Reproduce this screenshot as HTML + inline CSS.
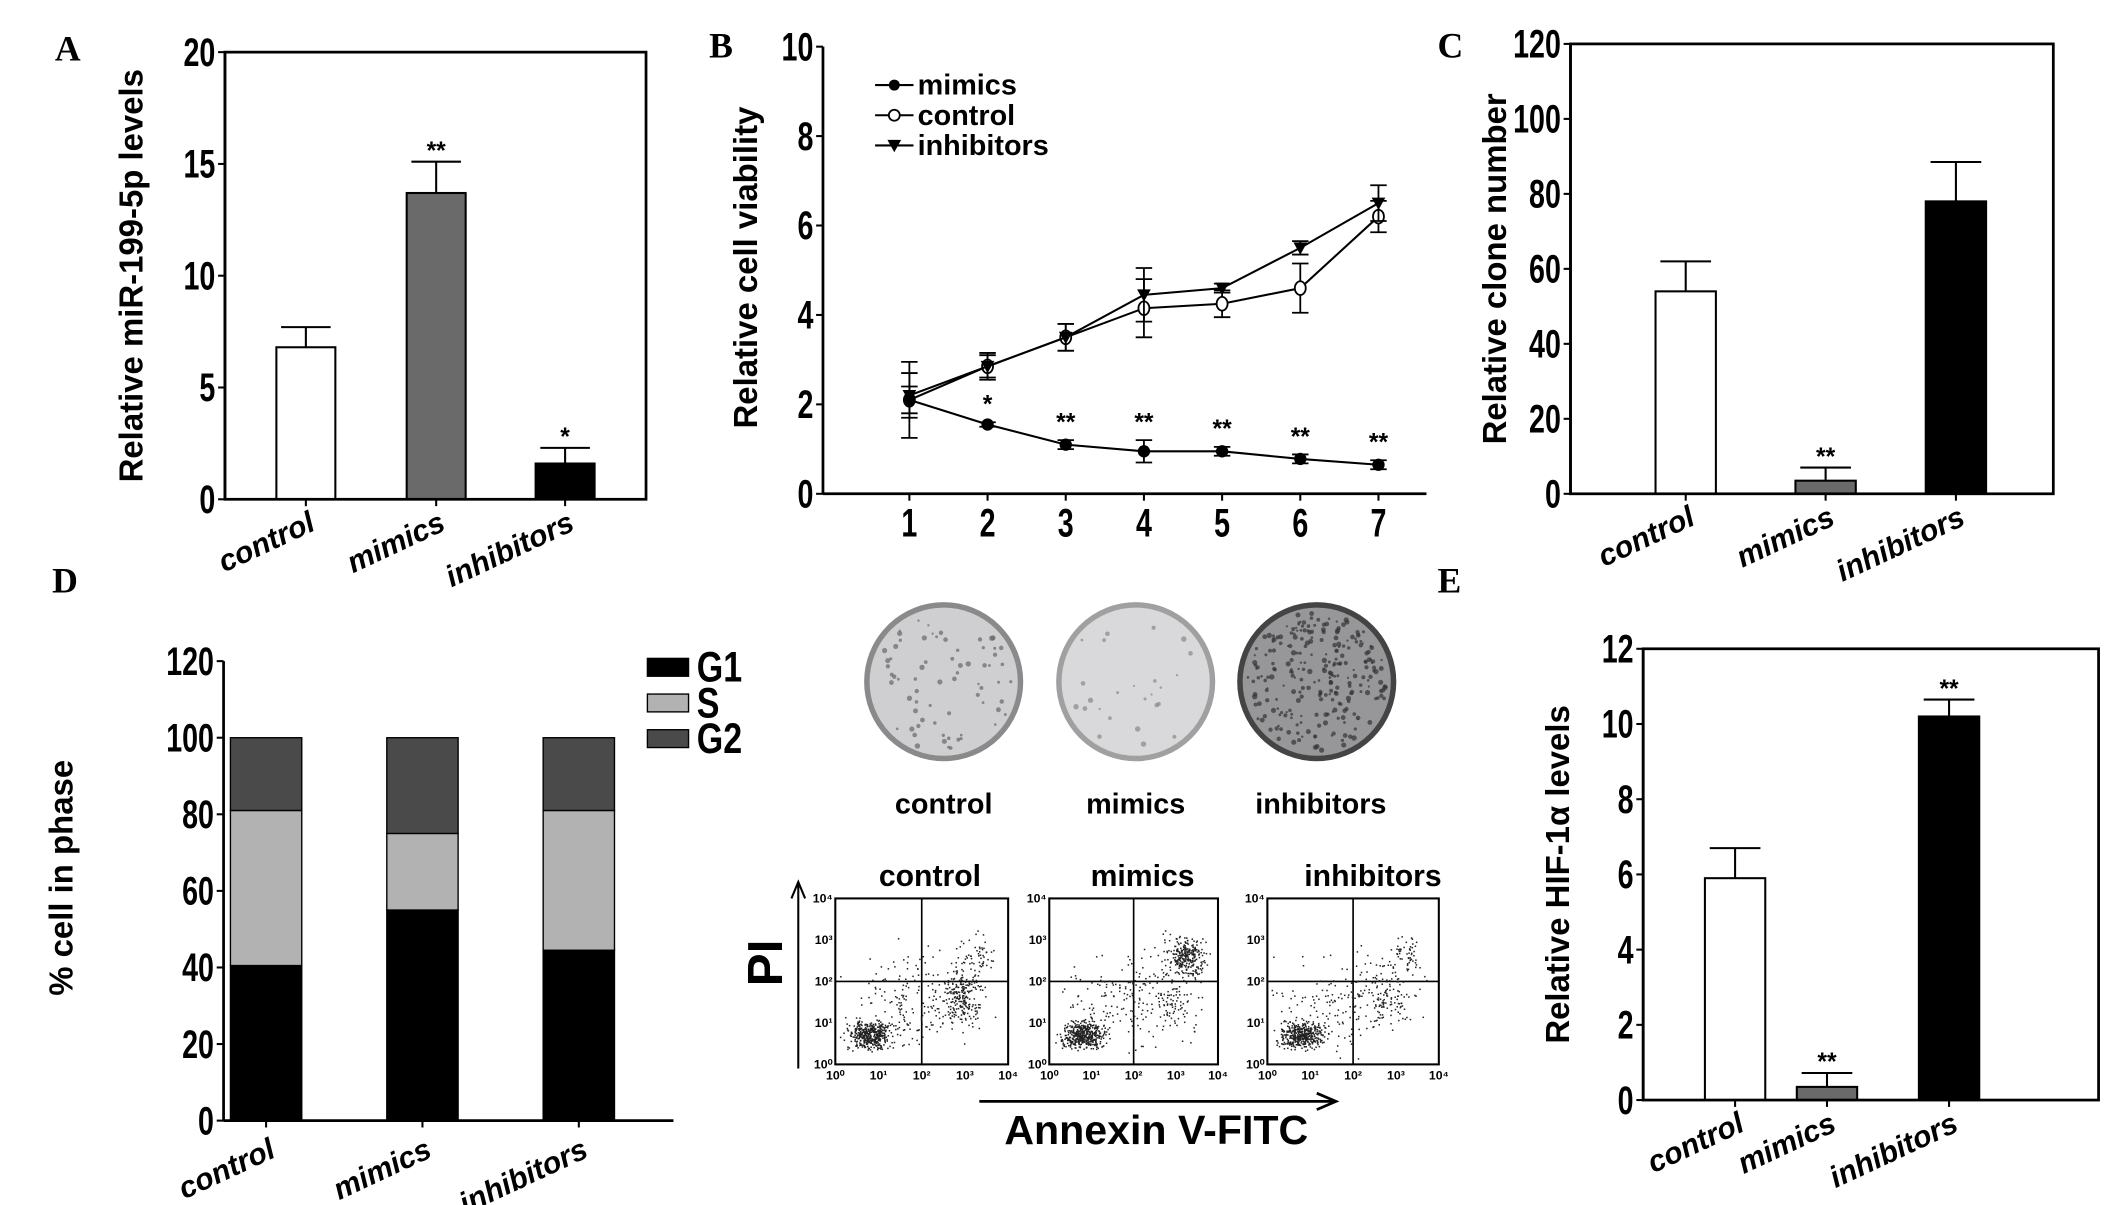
<!DOCTYPE html>
<html><head><meta charset="utf-8"><style>
html,body{margin:0;padding:0;background:#fff;}
svg{display:block;}
text{font-family:"Liberation Sans",sans-serif;font-weight:bold;fill:#000;}
.s{font-family:"Liberation Serif",serif;font-weight:bold;}
.it{font-style:italic;}
</style></head><body>
<svg id="fig" xmlns="http://www.w3.org/2000/svg" width="2126" height="1205" viewBox="0 0 1550 878.5">
<rect x="0" y="0" width="1550" height="879" fill="#fff"/>
</svg>
<script>
// ===== Data =====
const groups = ["control","mimics","inhibitors"];
const aValues = [6.8, 13.7, 1.6];
const aErrors = [0.9, 1.4, 0.7];
const aStars = ["", "**", "*"];
const aTicks = [0,5,10,15,20];

const bDays = [1,2,3,4,5,6,7];
const bMimics = [2.1,1.55,1.1,0.95,0.95,0.78,0.65];
const bMimicsErr = [0.3,0.05,0.1,0.25,0.1,0.1,0.1];
const bControl = [2.1,2.85,3.5,4.15,4.25,4.6,6.2];
const bControlErr = [0.85,0.25,0.3,0.65,0.3,0.55,0.35];
const bInhib = [2.2,2.85,3.5,4.45,4.6,5.5,6.5];
const bInhibErr = [0.5,0.3,0.3,0.6,0.1,0.15,0.4];
const bStars = ["","*","**","**","**","**","**"];
const bTicks = [0,2,4,6,8,10];

const cValues = [54, 3.5, 78];
const cErrors = [8, 3.5, 10.5];
const cStars = ["", "**", ""];
const cTicks = [0,20,40,60,80,100,120];

const dG1 = [40.5, 55, 44.5];
const dS = [40.5, 20, 36.5];
const dG2 = [19, 25, 19];
const dTicks = [0,20,40,60,80,100,120];

const eValues = [5.9, 0.35, 10.2];
const eErrors = [0.8, 0.37, 0.45];
const eStars = ["", "**", "**"];
const eTicks = [0,2,4,6,8,10,12];

const barFills = ["#fff","#6a6a6a","#000"];

// ===== helpers =====
const svg = document.getElementById('fig');
const NS = "http://www.w3.org/2000/svg";
function mk(tag, attrs, parent){
  const e = document.createElementNS(NS, tag);
  for (const k in attrs) e.setAttribute(k, attrs[k]);
  (parent||svg).appendChild(e);
  return e;
}
function txt(s, x, y, size, parent, anchor, cls, rot){
  const t = mk('text', {x:x, y:y, 'font-size':size, 'text-anchor':anchor||'middle'}, parent);
  if (cls) t.setAttribute('class', cls);
  if (rot) t.setAttribute('transform', 'rotate(' + rot + ' ' + x + ' ' + y + ')');
  t.textContent = s;
  return t;
}
function ntxt(s, x, y, size, parent, anchor, sx){
  const t = mk('text', {x:0, y:0, 'font-size':size, 'text-anchor':anchor||'middle', transform:'translate('+x+' '+y+') scale('+(sx||0.72)+' 1)'}, parent);
  t.textContent = s;
  return t;
}
function grp(name){
  const g = mk('g', {});
  
  
  return g;
}
function yAxis(g, x, y0, y1, ticks, scale){
  mk('line',{x1:x,y1:y0,x2:x,y2:y1,stroke:'#000','stroke-width':2},g);
  ticks.forEach(v=>{
    const y = scale(v);
    mk('line',{x1:x-5,y1:y,x2:x,y2:y,stroke:'#000','stroke-width':1.5},g);
    const t = ntxt(String(v), x-7, y+10, 29, g, 'end');
    
    
  });
}
function barPanel(name, box, ticks, vmax, values, errors, stars, centers, bw, ytitle, ytx, labelOffset){
  const g = grp(name);
  const sy = v => box.b - (v/vmax)*(box.b-box.t);
  values.forEach((v,i)=>{
    const x = centers[i]-bw/2;
    const ey = sy(v+errors[i]);
    const r = mk('rect',{x:x,y:sy(v),width:bw,height:box.b-sy(v),fill:barFills[i],stroke:'#000','stroke-width':1.5},g);
    
    
    const el = mk('path',{d:'M'+centers[i]+' '+sy(v)+' V'+ey+' M'+(centers[i]-bw*0.42)+' '+ey+' H'+(centers[i]+bw*0.42),stroke:'#000','stroke-width':1.5,fill:'none'},g);
    
    
    if (stars[i]) txt(stars[i], centers[i], ey-2, 18, g);
    mk('line',{x1:centers[i],y1:box.b,x2:centers[i],y2:box.b+5,stroke:'#000','stroke-width':1.5},g);
    const lt = txt(groups[i], centers[i]+8, box.b+labelOffset, 22, g, 'end', 'it', -25);
    
    
  });
  mk('rect',{x:box.l,y:box.t,width:box.r-box.l,height:box.b-box.t,fill:'none',stroke:'#000','stroke-width':2},g);
  yAxis(g, box.l, box.t, box.b, ticks, sy);
  const tt = txt(ytitle, ytx, (box.t+box.b)/2, 24, g, 'middle', null, -90);
  
  
}

// ===== Panel labels =====
[["A",40,44],["B",517,42],["C",1048,42],["D",38,432],["E",1048,432]].forEach(p=>{
  const t = txt(p[0], p[1], p[2], 26, svg, 'start', 's');
  
  
});

// ===== Panel A =====
barPanel('panel-a-chart', {l:164,r:471,t:38,b:364}, aTicks, 20, aValues, aErrors, aStars, [223,318,412], 43, 'Relative miR-199-5p levels', 104, 22);

// ===== Panel B =====
(function(){
  const g = grp('panel-b-chart');
  const L=600, T=34, B=360, R=1040;
  const sy = v => B - (v/10)*(B-T);
  const sx = d => 663 + (d-1)*57;
  mk('line',{x1:L,y1:B,x2:R,y2:B,stroke:'#000','stroke-width':2},g);
  yAxis(g, L, T, B, bTicks, sy);
  bDays.forEach(d=>{
    mk('line',{x1:sx(d),y1:B,x2:sx(d),y2:B+5,stroke:'#000','stroke-width':1.5},g);
    const t = ntxt(String(d), sx(d), B+31, 29, g, 'middle');
    
    
  });
  function series(name, vals, errs, marker){
    const sg = mk('g',{},g);
    
    
    mk('polyline',{points:vals.map((v,i)=>sx(bDays[i])+','+sy(v)).join(' '),fill:'none',stroke:'#000','stroke-width':1.5},sg);
    vals.forEach((v,i)=>{
      const x=sx(bDays[i]), y=sy(v), e1=sy(v+errs[i]), e2=sy(v-errs[i]);
      mk('path',{d:'M'+x+' '+e1+' V'+e2+' M'+(x-6)+' '+e1+' H'+(x+6)+' M'+(x-6)+' '+e2+' H'+(x+6),stroke:'#000','stroke-width':1.3,fill:'none'},sg);
      let m;
      if (marker==='filled') m = mk('circle',{cx:x,cy:y,r:4.5,fill:'#000'},sg);
      else if (marker==='open') m = mk('ellipse',{cx:x,cy:y,rx:4,ry:5,fill:'#fff',stroke:'#000','stroke-width':1.3},sg);
      else m = mk('path',{d:'M'+(x-5)+' '+(y-4)+' L'+(x+5)+' '+(y-4)+' L'+x+' '+(y+5)+' Z',fill:'#000'},sg);
      
      
    });
  }
  series('control', bControl, bControlErr, 'open');
  series('inhibitors', bInhib, bInhibErr, 'tri');
  series('mimics', bMimics, bMimicsErr, 'filled');
  bStars.forEach((s,i)=>{ if(s) txt(s, sx(bDays[i]), sy(bMimics[i]+bMimicsErr[i])-7, 18, g); });
  const tt = txt('Relative cell viability', 552, 195, 24, g, 'middle', null, -90);
  
  
  const lg = mk('g',{},g);
  
  
  [['mimics','filled',62],['control','open',84],['inhibitors','tri',106]].forEach(it=>{
    const y=it[2], x=652;
    mk('line',{x1:638,y1:y,x2:666,y2:y,stroke:'#000','stroke-width':1.5},lg);
    if(it[1]==='filled') mk('circle',{cx:x,cy:y,r:4,fill:'#000'},lg);
    else if(it[1]==='open') mk('circle',{cx:x,cy:y,r:4,fill:'#fff',stroke:'#000','stroke-width':1.3},lg);
    else mk('path',{d:'M'+(x-5)+' '+(y-4)+' L'+(x+5)+' '+(y-4)+' L'+x+' '+(y+5)+' Z',fill:'#000'},lg);
    const t = txt(it[0], 669, y+7, 21, lg, 'start');
    
    
  });
})();

// ===== Panel C =====
barPanel('panel-c-chart', {l:1145,r:1497,t:32,b:360}, cTicks, 120, cValues, cErrors, cStars, [1229,1331,1426], 44, 'Relative clone number', 1098, 22);

// ===== Panel D =====
(function(){
  const g = grp('panel-d-chart');
  const L=163, T=482, B=817, R=491;
  const sy = v => B - (v/120)*(B-T);
  const cx=[194,308,422], bw=52;
  mk('line',{x1:L,y1:B,x2:R,y2:B,stroke:'#000','stroke-width':2},g);
  yAxis(g, L, T, B, dTicks, sy);
  groups.forEach((gname,i)=>{
    let base=0;
    [[dG1[i],'#000','g1'],[dS[i],'#b2b2b2','s'],[dG2[i],'#4a4a4a','g2']].forEach(seg=>{
      const r = mk('rect',{x:cx[i]-bw/2,y:sy(base+seg[0]),width:bw,height:sy(base)-sy(base+seg[0]),fill:seg[1],stroke:'#000','stroke-width':1},g);
      
      
      base+=seg[0];
    });
    mk('line',{x1:cx[i],y1:B,x2:cx[i],y2:B+5,stroke:'#000','stroke-width':1.5},g);
    const lt = txt(gname, cx[i]+8, B+26, 22, g, 'end', 'it', -25);
    
    
  });
  const tt = txt('% cell in phase', 53, 640, 24, g, 'middle', null, -90);
  
  
  const lg = mk('g',{},g);
  
  
  [['G1','#000',486],['S','#b2b2b2',512],['G2','#4a4a4a',538]].forEach(it=>{
    mk('rect',{x:472,y:it[2]-6,width:30,height:13,fill:it[1],stroke:'#000','stroke-width':1},lg);
    const t = ntxt(it[0], 508, it[2]+11, 31, lg, 'start', 0.8);
    
    
  });
})();

// ===== Colony dishes =====
(function(){
  const g = grp('colony-dishes');
  let seed = 7;
  function rnd(){ seed = (seed*16807)%2147483647; return seed/2147483647; }
  [[688,'#cfcfd2','#8a8a8a',70,'#666'],[828,'#d9d9db','#a0a0a0',25,'#888'],[960,'#97979a','#444',260,'#333']].forEach((d,i)=>{
    const c = mk('circle',{cx:d[0],cy:497,r:56,fill:d[1],stroke:d[2],'stroke-width':4},g);
    
    
    for(let k=0;k<d[3];k++){
      const a=rnd()*6.283, r=Math.sqrt(rnd())*51;
      mk('circle',{cx:d[0]+r*Math.cos(a),cy:497+r*Math.sin(a),r:0.8+rnd()*1.2,fill:d[4],'fill-opacity':0.7},g);
    }
    const t = txt(groups[i], [688,828,963][i], 593, 21, g, 'middle');
    
    
  });
})();

// ===== Flow cytometry =====
(function(){
  const g = grp('flow-cytometry');
  let seed = 11;
  function rnd(){ seed = (seed*16807)%2147483647; return seed/2147483647; }
  function gauss(){ return (rnd()+rnd()+rnd()-1.5)/1.5; }
  const boxes=[[609,735,'control',678],[765,888,'mimics',833],[924,1049,'inhibitors',1001]];
  boxes.forEach((b,i)=>{
    const l=b[0], r=b[1], t=655, bt=776, w=r-l, h=bt-t;
    const fg = mk('g',{},g);
    
    
    mk('rect',{x:l,y:t,width:w,height:h,fill:'#fff',stroke:'#000','stroke-width':1.5},fg);
    mk('line',{x1:l+w/2,y1:t,x2:l+w/2,y2:bt,stroke:'#000','stroke-width':1.2},fg);
    mk('line',{x1:l,y1:t+h*0.5,x2:r,y2:t+h*0.5,stroke:'#000','stroke-width':1.2},fg);
    const clusters = [[0.2,0.82,0.09,0.06,450],[0.72,0.6,0.08,0.12,i==0?200:70],[0.8,0.35,0.08,0.09,i==1?280:60],[0.5,0.6,0.3,0.2,200]];
    clusters.forEach(c=>{
      for(let k=0;k<c[4];k++){
        const x=l+w*(c[0]+gauss()*c[2]*2), y=t+h*(c[1]+gauss()*c[3]*2);
        if(x>l+2&&x<r-2&&y>t+2&&y<bt-2) mk('rect',{x:x,y:y,width:1.1,height:1.1,fill:'#222'},fg);
      }
    });
    ['10⁰','10¹','10²','10³','10⁴'].forEach((s,k)=>{
      txt(s, l+w*k/4, bt+11, 9, fg, 'middle');
      txt(s, l-2, bt-h*k/4+3, 9, fg, 'end');
    });
    const tt = txt(b[2], b[3], 646, 22, fg, 'middle');
    
    
  });
  mk('path',{d:'M582 779 V645 M577 655 L582 643 L587 655',stroke:'#000','stroke-width':1.5,fill:'none'},g);
  const pi = txt('PI', 570, 702, 36, g, 'middle', null, -90);
  
  
  mk('path',{d:'M714 803 H972 M960 797 L974 803 L960 809',stroke:'#000','stroke-width':2,fill:'none'},g);
  const ax = txt('Annexin V-FITC', 843, 834, 30, g, 'middle');
  
  
})();

// ===== Panel E =====
barPanel('panel-e-chart', {l:1198,r:1530,t:473,b:802}, eTicks, 12, eValues, eErrors, eStars, [1265,1332,1421], 44, 'Relative HIF-1α levels', 1144, 22);
</script>
</body></html>
